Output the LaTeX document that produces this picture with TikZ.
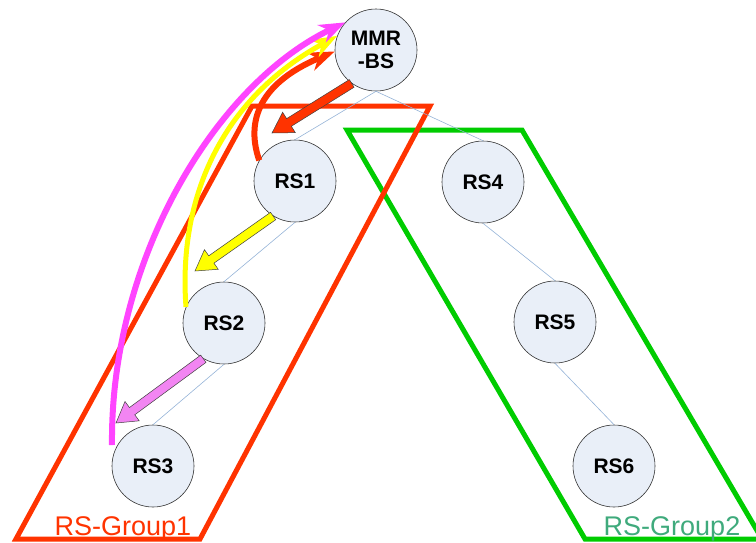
\documentclass[tikz,border=0pt]{standalone}
\usepackage{fontspec}
\setmainfont{Liberation Sans}
\usetikzlibrary{calc,arrows.meta}
\definecolor{grpred}{HTML}{FF3300}
\definecolor{grpgreen}{HTML}{00CC00}
\definecolor{lblgreen}{HTML}{3FAA7C}
\definecolor{nodefill}{HTML}{E9EFF8}
\definecolor{linkblue}{HTML}{95B3D7}
\definecolor{magentaA}{HTML}{FF44FF}
\definecolor{violetA}{HTML}{F285F2}
\definecolor{yellowA}{HTML}{FFFF00}
\newcommand\fatarrow[5]{% start, tip, fill, half shaft, half head
  \coordinate (fb) at ($(#2)!20pt!(#1)$);
  \filldraw[fill=#3, draw=black!75, line width=0.5pt]
    ($(#1)!#4!90:(#2)$) -- ($(fb)!#4!90:(#2)$) -- ($(fb)!#5!90:(#2)$) -- (#2)
    -- ($(fb)!#5!-90:(#2)$) -- ($(fb)!#4!-90:(#2)$) -- ($(#1)!#4!-90:(#2)$) -- cycle;
}
\begin{document}
\begin{tikzpicture}[x=1pt,y=-1pt,
  rsnode/.style={circle, minimum size=82pt, inner sep=0pt, draw=black!80, line width=0.6pt,
    fill=nodefill, font=\bfseries\fontsize{21}{23}\selectfont, align=center},
  link/.style={draw=linkblue, line width=0.6pt},
  grp/.style={line width=5pt, line join=miter},
  curvearr/.style={line width=6pt, -{Stealth[length=26pt,width=19pt,inset=8pt]}},
  grplabel/.style={font=\fontsize{27}{30}\selectfont, anchor=base}
]
\useasboundingbox (0,0) rectangle (756,542);

% groups
\draw[grp, draw=grpgreen] (347,130) -- (522,130) -- (762,539) -- (585,539) -- cycle;
\draw[grp, draw=grpred] (252,106) -- (430,106) -- (200,539) -- (16,539) -- cycle;

% nodes
\node[rsnode] (bs) at (376,50) {MMR\\-BS};
\node[rsnode] (rs1) at (295,181) {RS1};
\node[rsnode] (rs4) at (483,182) {RS4};
\node[rsnode] (rs2) at (224,323) {RS2};
\node[rsnode] (rs5) at (555,322) {RS5};
\node[rsnode] (rs3) at (153,466) {RS3};
\node[rsnode] (rs6) at (614,466) {RS6};

% links
\draw[link] (bs.south) -- (rs1.north);
\draw[link] (bs.south) -- (rs4.north);
\draw[link] (rs1.south) -- (rs2.north);
\draw[link] (rs2.south) -- (rs3.north);
\draw[link] (rs4.south) -- (rs5.north);
\draw[link] (rs5.south) -- (rs6.north);

% labels
\node[grplabel, text=grpred] (g1) at (123,535) {RS-Group1};
\node[grplabel, text=lblgreen] (g2) at (672,535) {RS-Group2};

% curved arrows
\coordinate (pinkstart) at (112,445);
\draw[curvearr, draw=grpred] (rs1.150) .. controls (247,125) and (255,85) .. (bs.182);
\draw[curvearr, draw=yellowA, line width=5pt] (rs2.157) .. controls (178,200) and (220,100) .. (bs.160);
\draw[curvearr, draw=magentaA] (pinkstart) .. controls (110,260) and (215,85) .. (bs.138);

% block arrows
\coordinate (redtip) at (272,133);
\coordinate (yeltip) at (195,271);
\coordinate (pinktip) at (116,423);
\fatarrow{bs.234}{redtip}{grpred}{4.5pt}{12pt}
\fatarrow{rs1.238}{yeltip}{yellowA}{4.5pt}{12pt}
\fatarrow{rs2.240}{pinktip}{violetA}{4.5pt}{12pt}
\end{tikzpicture}
\end{document}
